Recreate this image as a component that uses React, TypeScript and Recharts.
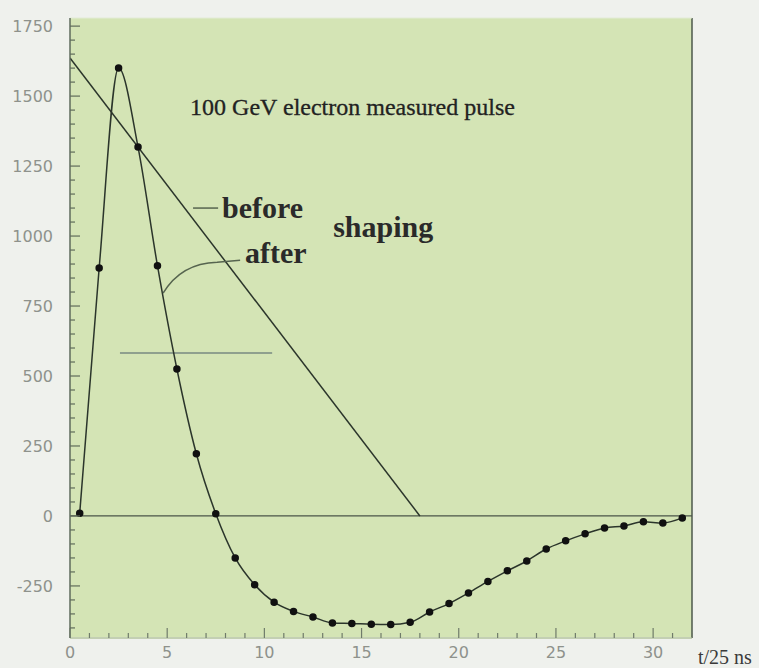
import { LineChart, Line, XAxis, YAxis, ReferenceLine, ReferenceDot, CartesianGrid } from 'recharts';

// sample times (t/25 ns) and measured pulse after shaping
const sampleTimes = [
  0.5, 1.5, 2.5, 3.5, 4.5, 5.5, 6.5, 7.5, 8.5, 9.5, 10.5, 11.5, 12.5, 13.5, 14.5, 15.5,
  16.5, 17.5, 18.5, 19.5, 20.5, 21.5, 22.5, 23.5, 24.5, 25.5, 26.5, 27.5, 28.5, 29.5, 30.5, 31.5,
];
const afterShaping = [
  10, 886, 1600, 1318, 894, 525, 222, 8, -150, -246, -308, -341, -361, -382, -384, -387,
  -388, -380, -343, -313, -275, -234, -196, -161, -118, -89, -64, -43, -36, -21, -25, -7,
];

// triangular pulse before shaping
const beforeTimes = [0, 18];
const beforeValues = [1636, 0];

const yMajor = [-250, 0, 250, 500, 750, 1000, 1250, 1500, 1750];
const xMajor = [0, 5, 10, 15, 20, 25, 30];

const yTicks: number[] = [];
for (let v = -400; v <= 1750; v += 50) yTicks.push(v);
const xTicks: number[] = [];
for (let t = 0; t <= 32; t += 1) xTicks.push(t);

const afterData = sampleTimes.map((t, i) => ({ t, v: afterShaping[i] }));
const beforeData = beforeTimes.map((t, i) => ({ t, v: beforeValues[i] }));

const PLOT_BG = '#d4e4b5';
const INK = '#2b352b';
const LABEL = '#8e928c';

function YTick(props: any) {
  const { x, y, payload } = props;
  const major = yMajor.includes(payload.value);
  return (
    <g>
      <path d={`M${x},${y}h${major ? 10 : 5}`} stroke="#5f6b5a" strokeWidth={1.2} fill="none" />
      {major && (
        <text x={x - 17} y={y} dy={6} textAnchor="end" fontSize={16} fill={LABEL} stroke="none" fontFamily="DejaVu Sans, sans-serif">
          {payload.value}
        </text>
      )}
    </g>
  );
}

function XTick(props: any) {
  const { x, y, payload } = props;
  const major = xMajor.includes(payload.value);
  return (
    <g>
      <path d={`M${x},${y}v${major ? -10 : -5}`} stroke="#6f7b6a" strokeWidth={1.2} fill="none" />
      {major && (
        <text x={x} y={y + 20} textAnchor="middle" fontSize={16} fill={LABEL} stroke="none" fontFamily="DejaVu Sans, sans-serif">
          {payload.value}
        </text>
      )}
    </g>
  );
}

const serif = 'Liberation Serif, Times New Roman, serif';

export default function App() {
  return (
    <div style={{ position: 'absolute', left: 0, top: 0, width: 759, height: 668, background: '#eff1ed' }}>
      <LineChart width={759} height={668} margin={{ top: 18, right: 67, bottom: 0, left: 0 }}>
        <CartesianGrid horizontal={false} vertical={false} fill={PLOT_BG} fillOpacity={1} />
        <XAxis
          type="number"
          dataKey="t"
          domain={[0, 32]}
          ticks={xTicks}
          interval={0}
          height={30}
          tickLine={false}
          tickSize={0}
          tickMargin={0}
          tick={<XTick />}
          axisLine={{ stroke: '#c3cfb3', strokeWidth: 2 }}
          allowDataOverflow
          label={{
            content: ({ viewBox }: any) => (
              <text x={viewBox.x + viewBox.width + 6} y={viewBox.y + 26} fontSize={20} fill="#3a3a3a" fontFamily={serif}>
                t/25 ns
              </text>
            ),
          }}
        />
        <YAxis
          type="number"
          domain={[-436, 1779]}
          ticks={yTicks}
          interval={0}
          width={70}
          tickLine={false}
          tickSize={0}
          tickMargin={0}
          tick={<YTick />}
          axisLine={{ stroke: '#5f6b5d', strokeWidth: 1.5 }}
          allowDataOverflow
        />
        <ReferenceLine x={32} stroke="#4d584b" strokeWidth={1.5} />
        <ReferenceLine y={1779} stroke="#e2ebd6" strokeWidth={1} />
        <ReferenceLine y={0} stroke="#4a5548" strokeWidth={1.2} />
        <ReferenceLine
          segment={[{ x: 2.57, y: 582 }, { x: 10.4, y: 582 }]}
          stroke="#8fa08e"
          strokeWidth={2}
        />
        <ReferenceLine
          segment={[{ x: 6.33, y: 1100 }, { x: 7.62, y: 1100 }]}
          stroke="#56644f"
          strokeWidth={1.5}
        />
        <Line
          data={beforeData}
          dataKey="v"
          type="linear"
          stroke={INK}
          strokeWidth={1.5}
          dot={false}
          isAnimationActive={false}
        />
        <Line
          data={afterData}
          dataKey="v"
          type="monotone"
          stroke={INK}
          strokeWidth={1.5}
          dot={{ r: 3, fill: '#111', stroke: '#111' }}
          isAnimationActive={false}
        />
        <ReferenceDot
          x={4.79}
          y={796}
          r={1}
          shape={(p: any) => (
            <path
              d={`M${p.cx},${p.cy} Q${p.cx + 18},${p.cy - 30} ${p.cx + 54},${p.cy - 31} L${p.cx + 77},${p.cy - 33}`}
              fill="none"
              stroke="#56644f"
              strokeWidth={1.5}
            />
          )}
        />
        <ReferenceDot
          x={6.18}
          y={1432}
          r={1}
          shape={(p: any) => (
            <text x={p.cx} y={p.cy} fontSize={24} fill="#222" stroke="#222" strokeWidth={0.3} fontFamily={serif}>
              100 GeV electron measured pulse
            </text>
          )}
        />
        <ReferenceDot
          x={7.82}
          y={1064}
          r={1}
          shape={(p: any) => (
            <text x={p.cx} y={p.cy} fontSize={30} fontWeight="bold" fill="#2a2a2a" fontFamily={serif}>
              before
            </text>
          )}
        />
        <ReferenceDot
          x={13.54}
          y={996}
          r={1}
          shape={(p: any) => (
            <text x={p.cx} y={p.cy} fontSize={30} fontWeight="bold" fill="#2a2a2a" fontFamily={serif}>
              shaping
            </text>
          )}
        />
        <ReferenceDot
          x={9.0}
          y={904}
          r={1}
          shape={(p: any) => (
            <text x={p.cx} y={p.cy} fontSize={30} fontWeight="bold" fill="#2a2a2a" fontFamily={serif}>
              after
            </text>
          )}
        />
      </LineChart>
    </div>
  );
}
